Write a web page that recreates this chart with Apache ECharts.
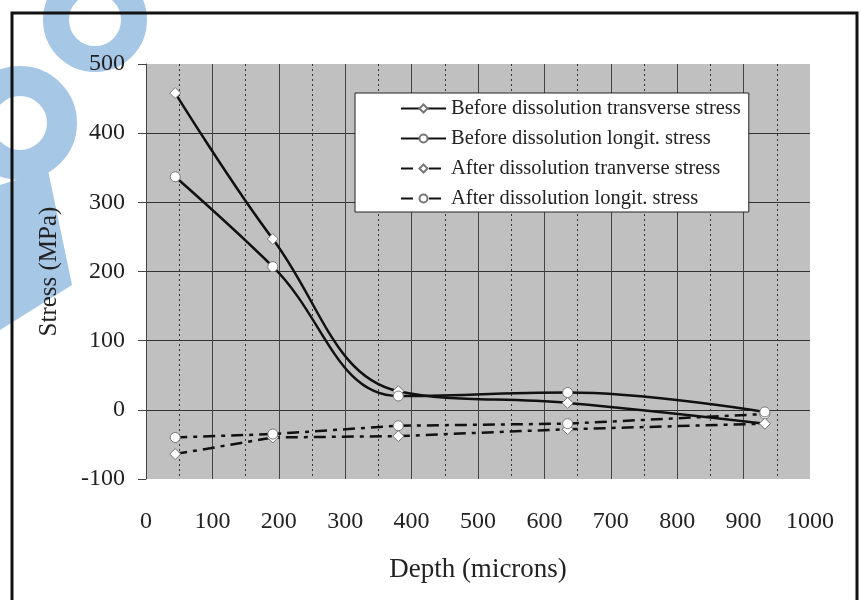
<!DOCTYPE html>
<html>
<head>
<meta charset="utf-8">
<script src="https://cdn.jsdelivr.net/npm/echarts@6/dist/echarts.min.js"></script>
<style>
  html, body { margin: 0; padding: 0; background: #fff; }
  #chart { width: 861px; height: 600px; }
</style>
</head>
<body>
<div id="chart"></div>
<script>
// depth of each measurement (microns)
const depth = [44, 191, 380, 635, 932];

// stress values (MPa)
const beforeTransverse = [458, 247, 27, 10, -20];
const beforeLongit = [337, 207, 20, 25, -3];
const afterTransverse = [-64, -40, -38, -28, -20];
const afterLongit = [-40, -35, -23, -20, -6];

const seriesNames = [
  "Before dissolution transverse stress",
  "Before dissolution longit. stress",
  "After dissolution tranverse stress",
  "After dissolution longit. stress"
];

const font = "Liberation Serif";
const wm = "#a7c7e7";

const chart = echarts.init(document.getElementById("chart"));

function pairs(ys) {
  return depth.map((x, i) => [x, ys[i]]);
}

function makeSeries(name, ys, symbol, dashed) {
  return {
    name: name,
    type: "line",
    data: pairs(ys),
    smooth: dashed ? false : 0.4,
    symbol: symbol,
    symbolSize: symbol === "diamond" ? 11 : 10,
    itemStyle: { color: "#fff", borderColor: "#777", borderWidth: 1 },
    lineStyle: {
      color: "#111",
      width: 2.5,
      type: dashed ? [12, 6, 4, 6] : "solid"
    },
    z: dashed ? 3 : 4
  };
}

const option = {
  animation: false,
  textStyle: { fontFamily: font },
  graphic: [
    // watermark shapes
    { type: "circle", shape: { cx: 95, cy: 20, r: 39 }, style: { fill: null, stroke: wm, lineWidth: 26 }, z: 0 },
    { type: "circle", shape: { cx: 20, cy: 123, r: 42 }, style: { fill: null, stroke: wm, lineWidth: 30 }, z: 0 },
    { type: "polygon", shape: { points: [[0, 185], [48, 170], [72, 285], [0, 330]] }, style: { fill: wm }, z: 0 },
    // outer frame
    { type: "rect", shape: { x: 12, y: 13, width: 845, height: 620 }, style: { fill: null, stroke: "#111", lineWidth: 3 }, z: 1 }
  ],
  grid: { left: 146, right: 51, top: 64, bottom: 121, show: true, backgroundColor: "#c0c0c0", borderWidth: 0 },
  legend: {
    left: 355,
    top: 93,
    orient: "vertical",
    backgroundColor: "#fff",
    borderColor: "#222",
    borderWidth: 1,
    padding: [5, 8, 3, 45],
    itemGap: 9,
    itemWidth: 45,
    itemHeight: 10,
    textStyle: { fontFamily: font, fontSize: 20.5, color: "#222" },
    data: seriesNames
  },
  xAxis: {
    type: "value",
    min: 0,
    max: 1000,
    interval: 100,
    name: "Depth (microns)",
    nameLocation: "middle",
    nameGap: 77,
    nameTextStyle: { fontFamily: font, fontSize: 27, color: "#222" },
    axisLine: { show: false },
    axisTick: { show: false },
    axisLabel: { margin: 31, fontFamily: font, fontSize: 24, color: "#222", formatter: (v) => String(v) },
    splitLine: { show: true, showMinLine: false, showMaxLine: false, lineStyle: { color: "#444", width: 1 } },
    minorTick: { show: false, splitNumber: 2 },
    minorSplitLine: { show: true, lineStyle: { color: "#333", width: 1, type: [2, 3] } }
  },
  yAxis: {
    type: "value",
    min: -100,
    max: 500,
    interval: 100,
    name: "Stress (MPa)",
    nameLocation: "middle",
    nameGap: 84,
    nameTextStyle: { fontFamily: font, fontSize: 25, color: "#222" },
    axisLine: { show: true, lineStyle: { color: "#444", width: 1 } },
    axisTick: { show: true, length: 8, lineStyle: { color: "#444" } },
    axisLabel: { margin: 21, fontFamily: font, fontSize: 24, color: "#222" },
    splitLine: { show: true, showMinLine: false, showMaxLine: false, lineStyle: { color: "#333", width: 1 } }
  },
  series: [
    makeSeries(seriesNames[0], beforeTransverse, "diamond", false),
    makeSeries(seriesNames[1], beforeLongit, "circle", false),
    makeSeries(seriesNames[2], afterTransverse, "diamond", true),
    makeSeries(seriesNames[3], afterLongit, "circle", true)
  ]
};

chart.setOption(option);
</script>
</body>
</html>
